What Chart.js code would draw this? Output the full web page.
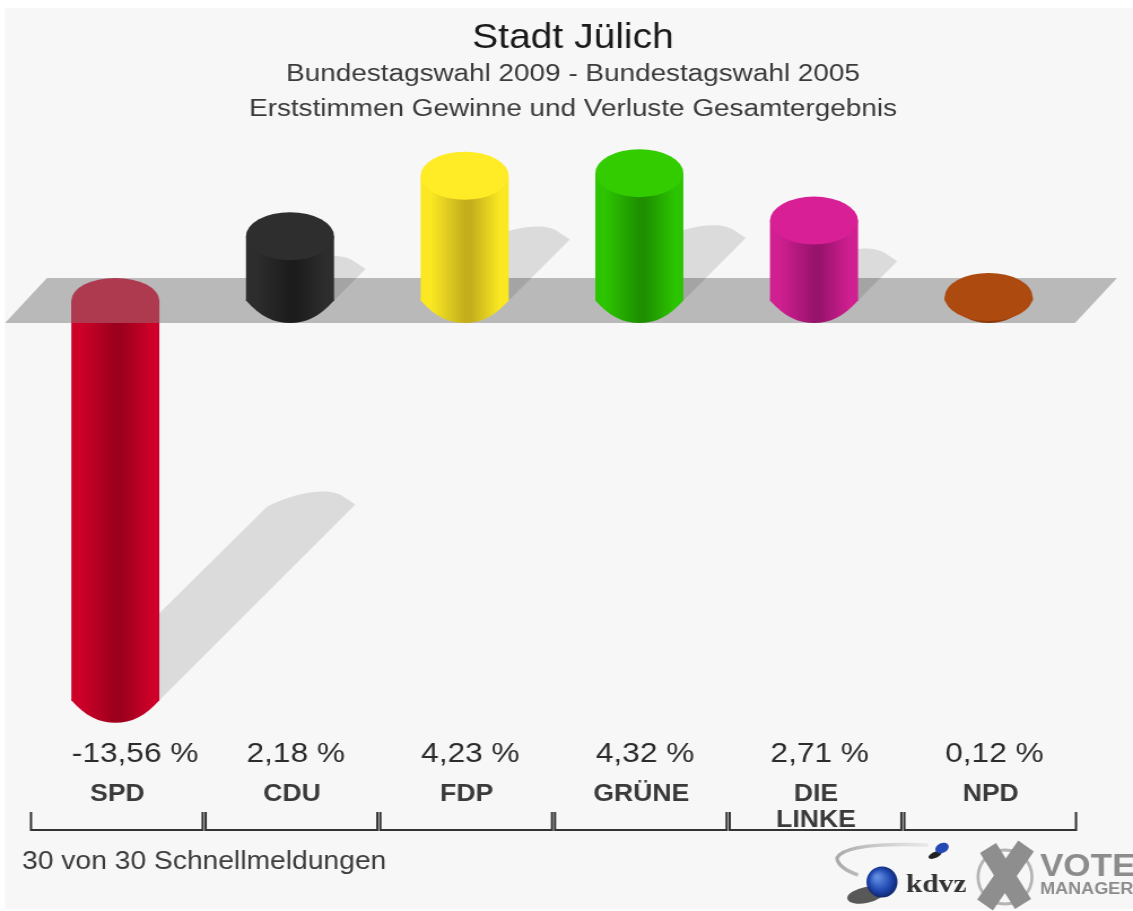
<!DOCTYPE html>
<html><head><meta charset="utf-8">
<script src="https://cdn.jsdelivr.net/npm/chart.js@4/dist/chart.umd.js"></script>
<style>html,body{margin:0;padding:0;background:#fff}canvas{display:block;filter:blur(0.7px)}</style>
</head><body><canvas id="c" width="1003" height="911" style="width:1133px;height:911px"></canvas>
<script>
const categories = [['SPD'],['CDU'],['FDP'],['GRÜNE'],['DIE','LINKE'],['NPD']];
const values = [-13.56, 2.18, 4.23, 4.32, 2.71, 0.12];
const capColors  = ['#ae3a50','#2e2e2e','#ffec26','#33cc00','#d81f95','#ad4a10'];
const edgeColors = ['#cc0029','#2d2d2d','#fae822','#2cc400','#cf1f90','#ad4a10'];
const coreColors = ['#9c001c','#1c1c1c','#c4ae1c','#1e9000','#98136c','#8a3808'];
const titleText = 'Stadt Jülich';
const subtitleLines = ['Bundestagswahl 2009 - Bundestagswahl 2005','Erststimmen Gewinne und Verluste Gesamtergebnis'];
const footerText = '30 von 30 Schnellmeldungen';
const fmt = v => v.toFixed(2).replace('.',',') + ' %';
const FONT = '"Liberation Sans", Arial, sans-serif';
const SX = 1133/1003;           // the drawing is stretched sideways, like the reference
const RX = 44, RY = 22.5, RYCAP = 24;

function sideGradient(ctx, x, i, rx){
  const g = ctx.createLinearGradient(x-rx,0,x+rx,0);
  g.addColorStop(0, edgeColors[i]);
  g.addColorStop(0.12, edgeColors[i]);
  g.addColorStop(0.5, coreColors[i]);
  g.addColorStop(0.57, coreColors[i]);
  g.addColorStop(0.9, edgeColors[i]);
  g.addColorStop(1, edgeColors[i]);
  return g;
}
function bottomPath(c, x, y){
  c.beginPath();
  c.moveTo(x-RX,y);
  c.lineTo(x-RX,y-1);
  c.lineTo(x+RX,y-1);
  c.lineTo(x+RX,y);
  c.bezierCurveTo(x+RX*0.68,y+RY*0.72,x+RX*0.36,y+RY,x,y+RY);
  c.bezierCurveTo(x-RX*0.36,y+RY,x-RX*0.68,y+RY*0.72,x-RX,y);
  c.closePath();
}
const cylinder = {
  id:'cylinder',
  beforeDraw(chart){
    const c = chart.ctx;
    c.save(); c.scale(1/SX,1);
    c.fillStyle='#ffffff'; c.fillRect(0,0,1133,911);
    c.fillStyle='#f7f7f7'; c.fillRect(5,8,1128,901);
    c.restore();
  },
  beforeDatasetsDraw(chart){
    const c = chart.ctx, y0 = chart.scales.y.getPixelForValue(0), a = chart.chartArea;
    const meta = chart.getDatasetMeta(0);
    const L = a.left*SX, R = a.right*SX;
    c.save(); c.scale(1/SX,1);
    c.fillStyle='#b9b9b9';
    c.beginPath();
    c.moveTo(L-23,y0+RY); c.lineTo(R-1,y0+RY);
    c.lineTo(R+41,y0-RY); c.lineTo(L+19,y0-RY);
    c.closePath(); c.fill();
    c.fillStyle='rgba(0,0,0,0.115)';
    meta.data.forEach(el=>{
      const yv = el.y, yB = Math.max(yv,y0), d = Math.abs(yv-y0)*0.49, x = el.x*SX;
      const lx = x-RX+d, rx = x+RX+d, Y = yB-d;
      c.beginPath();
      c.moveTo(x-RX,yB);
      c.lineTo(lx,Y+2);
      c.bezierCurveTo(lx+28,Y-12,rx-26,Y-18,rx-12,Y-8);
      c.lineTo(rx,Y);
      c.lineTo(x+RX,yB);
      c.closePath(); c.fill();
    });
    c.restore();
  },
  afterDatasetsDraw(chart){
    const c = chart.ctx, y0 = chart.scales.y.getPixelForValue(0);
    const meta = chart.getDatasetMeta(0);
    c.save(); c.scale(1/SX,1);
    meta.data.forEach((el,i)=>{
      const x = el.x*SX, yv = el.y;
      const bottom = Math.max(yv,y0);
      c.fillStyle = sideGradient(c,x,i,RX);
      bottomPath(c,x,bottom); c.fill();
      c.fillStyle = capColors[i];
      if (yv > y0){
        c.beginPath();
        c.moveTo(x-RX,y0+RY);
        c.lineTo(x-RX,y0);
        c.ellipse(x,y0,RX,RY,0,Math.PI,2*Math.PI);
        c.lineTo(x+RX,y0+RY);
        c.closePath(); c.fill();
      } else {
        c.beginPath(); c.ellipse(x,yv,RX,RYCAP,0,0,2*Math.PI); c.fill();
      }
    });
    c.restore();
  },
  afterDraw(chart){
    const c = chart.ctx, meta = chart.getDatasetMeta(0), xs = chart.scales.x, a = chart.chartArea;
    const cw = (a.right-a.left)/categories.length;
    c.save();
    c.textAlign='left'; c.textBaseline='middle';
    // value labels
    c.fillStyle='#2c2c2c'; c.font='28px '+FONT;
    meta.data.forEach((el,i)=>{ c.fillText(fmt(values[i]), el.x-43.5/SX, 754); });
    // brackets
    c.strokeStyle='#333333'; c.lineWidth=2;
    values.forEach((v,i)=>{
      const px = xs.getPixelForValue(i), l = px-cw/2+3/SX, r = px+cw/2;
      c.beginPath(); c.moveTo(l,812); c.lineTo(l,830); c.lineTo(r,830); c.lineTo(r,812); c.stroke();
    });
    // footer
    c.fillStyle='#3c3c3c'; c.font='25px '+FONT;
    c.fillText(footerText,22/SX,862);
    // logo text
    c.fillStyle='#333'; c.font='bold 26px "Liberation Serif", serif';
    c.fillText('kdvz',906/SX,885);
    c.fillStyle='#8c8c8c'; c.font='bold 31px '+FONT; c.fillText('VOTE',1040/SX,867);
    c.font='bold 16px '+FONT; c.fillText('MANAGER',1040/SX,890);
    // logo shapes
    c.scale(1/SX,1);
    let sw = c.createLinearGradient(835,0,930,0);
    sw.addColorStop(0,'#a8a8a8'); sw.addColorStop(1,'rgba(200,200,200,0.3)');
    c.strokeStyle=sw; c.lineWidth=3.5; c.beginPath();
    c.moveTo(928,845); c.quadraticCurveTo(845,842,837,858); c.quadraticCurveTo(838,868,858,875); c.stroke();
    c.fillStyle='rgba(20,20,20,0.7)'; c.beginPath(); c.ellipse(866,895,19,8,-0.2,0,7); c.fill();
    let g = c.createRadialGradient(877,877,2,882,882,17);
    g.addColorStop(0,'#5f8be0'); g.addColorStop(0.6,'#1f47b0'); g.addColorStop(1,'#0c1f60');
    c.fillStyle=g; c.beginPath(); c.arc(882,882,15.5,0,7); c.fill();
    c.fillStyle='#222'; c.beginPath(); c.ellipse(935,855,7,3,-0.4,0,7); c.fill();
    c.fillStyle='#2448b4'; c.beginPath(); c.ellipse(942,848,7,5,-0.4,0,7); c.fill();
    c.strokeStyle='#b4b4b4'; c.lineWidth=3; c.beginPath(); c.arc(1005,877,27,0,7); c.stroke();
    c.strokeStyle='#8e8e8e'; c.lineWidth=19; c.beginPath();
    c.moveTo(988,848); c.lineTo(1023,904); c.moveTo(1026,846); c.lineTo(985,905); c.stroke();
    c.restore();
  }
};
new Chart(document.getElementById('c'),{
  type:'bar',
  plugins:[cylinder],
  data:{labels:categories,datasets:[{
    data:values,
    barPercentage:0.504,categoryPercentage:1,
    borderWidth:0,
    backgroundColor(ctx){
      const xs = ctx.chart.scales.x;
      const px = xs && ctx.dataIndex!==undefined ? xs.getPixelForValue(ctx.dataIndex) : NaN;
      if(!isFinite(px)) return edgeColors[ctx.dataIndex||0];
      return sideGradient(ctx.chart.ctx, px, ctx.dataIndex, RX/SX);
    }
  }]},
  options:{
    responsive:false,animation:false,devicePixelRatio:1,
    layout:{padding:{top:20.75,left:28/SX,right:15/SX,bottom:0}},
    plugins:{
      legend:{display:false},tooltip:{enabled:false},
      title:{display:true,text:titleText,color:'#1a1a1a',font:{family:FONT,size:34.5,weight:'normal',lineHeight:1},padding:{top:0,bottom:0}},
      subtitle:{display:true,text:subtitleLines,color:'#3a3a3a',font:{family:FONT,size:24.7,weight:'normal',lineHeight:35/24.7},padding:{top:1.75,bottom:14.3}}
    },
    scales:{
      x:{
        grid:{display:false,drawTicks:false},border:{display:false},
        afterFit(s){s.height=180;},
        ticks:{padding:50,autoSkip:false,maxRotation:0,labelOffset:2/SX,color:'#3a3a3a',
          font:{family:FONT,size:23.5,weight:'bold',lineHeight:1.11}}
      },
      y:{display:false,min:-14.6,max:5.4},
      y2:{position:'right',display:true,grid:{display:false},border:{display:false},ticks:{display:false},afterFit(s){s.width=42/SX;}}
    }
  }
});
</script></body></html>
